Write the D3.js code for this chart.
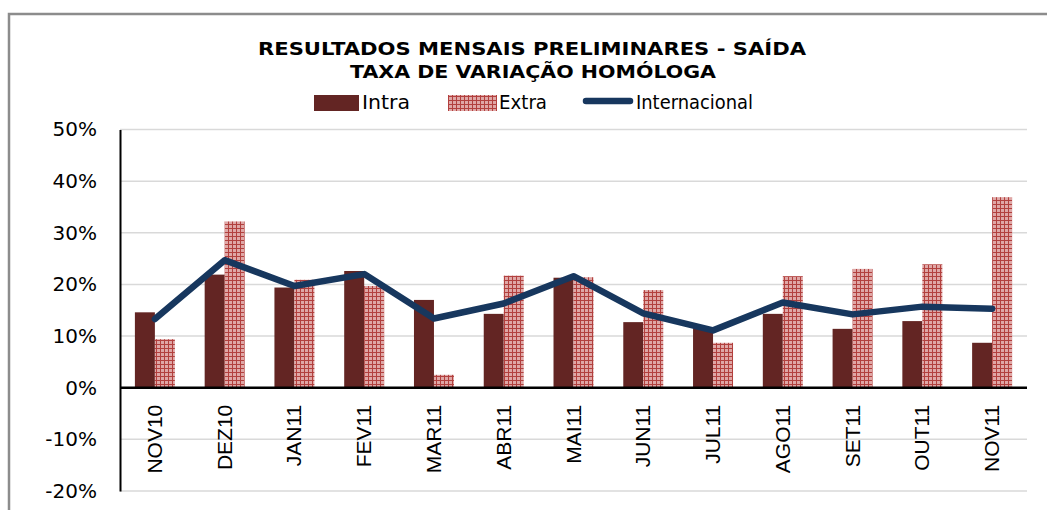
<!DOCTYPE html>
<html>
<head>
<meta charset="utf-8">
<script src="https://cdn.jsdelivr.net/npm/d3@7"></script>
<style>
  html, body { margin: 0; padding: 0; background: #fff; }
  svg { display: block; }
  text { font-family: "DejaVu Sans", Verdana, sans-serif; fill: #000; }
  .x-label { font-family: "Liberation Sans", Arial, sans-serif; }
</style>
</head>
<body>
<svg id="chart" width="1047" height="510"></svg>
<script>
const months = ["NOV10", "DEZ10", "JAN11", "FEV11", "MAR11", "ABR11", "MAI11",
  "JUN11", "JUL11", "AGO11", "SET11", "OUT11", "NOV11"];
const intra = [14.6, 21.9, 19.4, 22.6, 17.0, 14.3, 21.3, 12.7, 11.5, 14.3, 11.4, 12.9, 8.7];
const extra = [9.4, 32.2, 20.9, 19.7, 2.5, 21.7, 21.4, 18.9, 8.7, 21.6, 23.0, 23.9, 36.9];
const internacional = [13.3, 24.7, 19.7, 22.0, 13.4, 16.3, 21.6, 14.4, 11.1, 16.5, 14.2, 15.7, 15.3];
const yTicks = [-20, -10, 0, 10, 20, 30, 40, 50];

const svg = d3.select("#chart");

const plot = { left: 120, right: 1027, top: 129.5, bottom: 491 };

// outer chart frame
svg.append("rect")
  .attr("x", 9)
  .attr("y", 14)
  .attr("width", 1100)
  .attr("height", 600)
  .attr("fill", "none")
  .attr("stroke", "#8c8c8c")
  .attr("stroke-width", 2.5);

// pattern for Extra bars
const defs = svg.append("defs");
const pat = defs.append("pattern")
  .attr("id", "grid")
  .attr("width", 4)
  .attr("height", 4)
  .attr("patternUnits", "userSpaceOnUse");
pat.append("rect").attr("width", 4).attr("height", 4).attr("fill", "#dfa7a6");
pat.append("rect").attr("width", 1).attr("height", 4).attr("fill", "#b2403e");
pat.append("rect").attr("width", 4).attr("height", 1).attr("fill", "#b2403e");

const x = d3.scaleBand()
  .domain(months)
  .range([plot.left, plot.right])
  .padding(0);

const xSub = d3.scaleBand()
  .domain(["intra", "extra"])
  .range([0, x.bandwidth()])
  .paddingInner(0)
  .paddingOuter(0.745);

const y = d3.scaleLinear()
  .domain([-20, 50])
  .range([plot.bottom, plot.top]);

// gridlines
svg.append("g")
  .selectAll("line")
  .data(yTicks)
  .enter()
  .append("line")
  .attr("x1", plot.left)
  .attr("x2", plot.right)
  .attr("y1", d => y(d))
  .attr("y2", d => y(d))
  .attr("stroke", "#d9d9d9")
  .attr("stroke-width", 1.5);

// y axis
const yAxis = svg.append("g")
  .attr("transform", `translate(${plot.left},0)`)
  .call(d3.axisLeft(y).tickValues(yTicks).tickSize(0).tickPadding(23).tickFormat(d => d + "%"));
yAxis.select(".domain").attr("stroke", "#000").attr("stroke-width", 2);
yAxis.selectAll("text")
  .style("font-family", "'DejaVu Sans', Verdana, sans-serif")
  .style("font-size", "20px")
  .attr("fill", "#000");

const data = months.map((m, i) => ({ month: m, intra: intra[i], extra: extra[i], intl: internacional[i] }));

// bars
svg.append("g")
  .selectAll("rect")
  .data(data)
  .enter()
  .append("rect")
  .attr("x", d => x(d.month) + xSub("intra"))
  .attr("y", d => y(d.intra))
  .attr("width", xSub.bandwidth())
  .attr("height", d => y(0) - y(d.intra))
  .attr("fill", "#632523");

svg.append("g")
  .selectAll("rect")
  .data(data)
  .enter()
  .append("rect")
  .attr("x", d => x(d.month) + xSub("extra"))
  .attr("y", d => y(d.extra))
  .attr("width", xSub.bandwidth())
  .attr("height", d => y(0) - y(d.extra))
  .attr("fill", "url(#grid)");

// zero line
svg.append("line")
  .attr("x1", plot.left)
  .attr("x2", plot.right)
  .attr("y1", y(0))
  .attr("y2", y(0))
  .attr("stroke", "#000")
  .attr("stroke-width", 2.5);

// Internacional line
const line = d3.line()
  .x(d => x(d.month) + x.bandwidth() / 2)
  .y(d => y(d.intl));

svg.append("path")
  .datum(data)
  .attr("d", line)
  .attr("fill", "none")
  .attr("stroke", "#17375e")
  .attr("stroke-width", 6.5)
  .attr("stroke-linejoin", "round")
  .attr("stroke-linecap", "round");

// month labels
svg.append("g")
  .selectAll("text")
  .data(months)
  .enter()
  .append("text")
  .attr("class", "x-label")
  .attr("transform", d => `translate(${x(d) + x.bandwidth() / 2 + 7},${y(0) + 17}) rotate(-90)`)
  .attr("text-anchor", "end")
  .style("font-size", "21px")
  .text(d => d);

// title
svg.append("text")
  .attr("x", 532)
  .attr("y", 55)
  .attr("text-anchor", "middle")
  .attr("textLength", 548)
  .attr("lengthAdjust", "spacingAndGlyphs")
  .style("font-size", "18px")
  .style("font-weight", "bold")
  .text("RESULTADOS MENSAIS PRELIMINARES - SAÍDA");

svg.append("text")
  .attr("x", 533)
  .attr("y", 78)
  .attr("text-anchor", "middle")
  .attr("textLength", 366)
  .attr("lengthAdjust", "spacingAndGlyphs")
  .style("font-size", "18px")
  .style("font-weight", "bold")
  .text("TAXA DE VARIAÇÃO HOMÓLOGA");

// legend
const legend = svg.append("g");
legend.append("rect")
  .attr("x", 314).attr("y", 95)
  .attr("width", 45).attr("height", 16)
  .attr("fill", "#632523");
legend.append("text")
  .attr("x", 362).attr("y", 109)
  .attr("textLength", 48).attr("lengthAdjust", "spacingAndGlyphs")
  .style("font-size", "20px")
  .text("Intra");
legend.append("rect")
  .attr("x", 448).attr("y", 95)
  .attr("width", 49).attr("height", 16)
  .attr("fill", "url(#grid)");
legend.append("text")
  .attr("x", 499).attr("y", 109)
  .attr("textLength", 48).attr("lengthAdjust", "spacingAndGlyphs")
  .style("font-size", "20px")
  .text("Extra");
legend.append("line")
  .attr("x1", 586).attr("x2", 630)
  .attr("y1", 101).attr("y2", 101)
  .attr("stroke", "#17375e")
  .attr("stroke-width", 6.5)
  .attr("stroke-linecap", "round");
legend.append("text")
  .attr("x", 636).attr("y", 109)
  .attr("textLength", 117).attr("lengthAdjust", "spacingAndGlyphs")
  .style("font-size", "20px")
  .text("Internacional");
</script>
</body>
</html>
